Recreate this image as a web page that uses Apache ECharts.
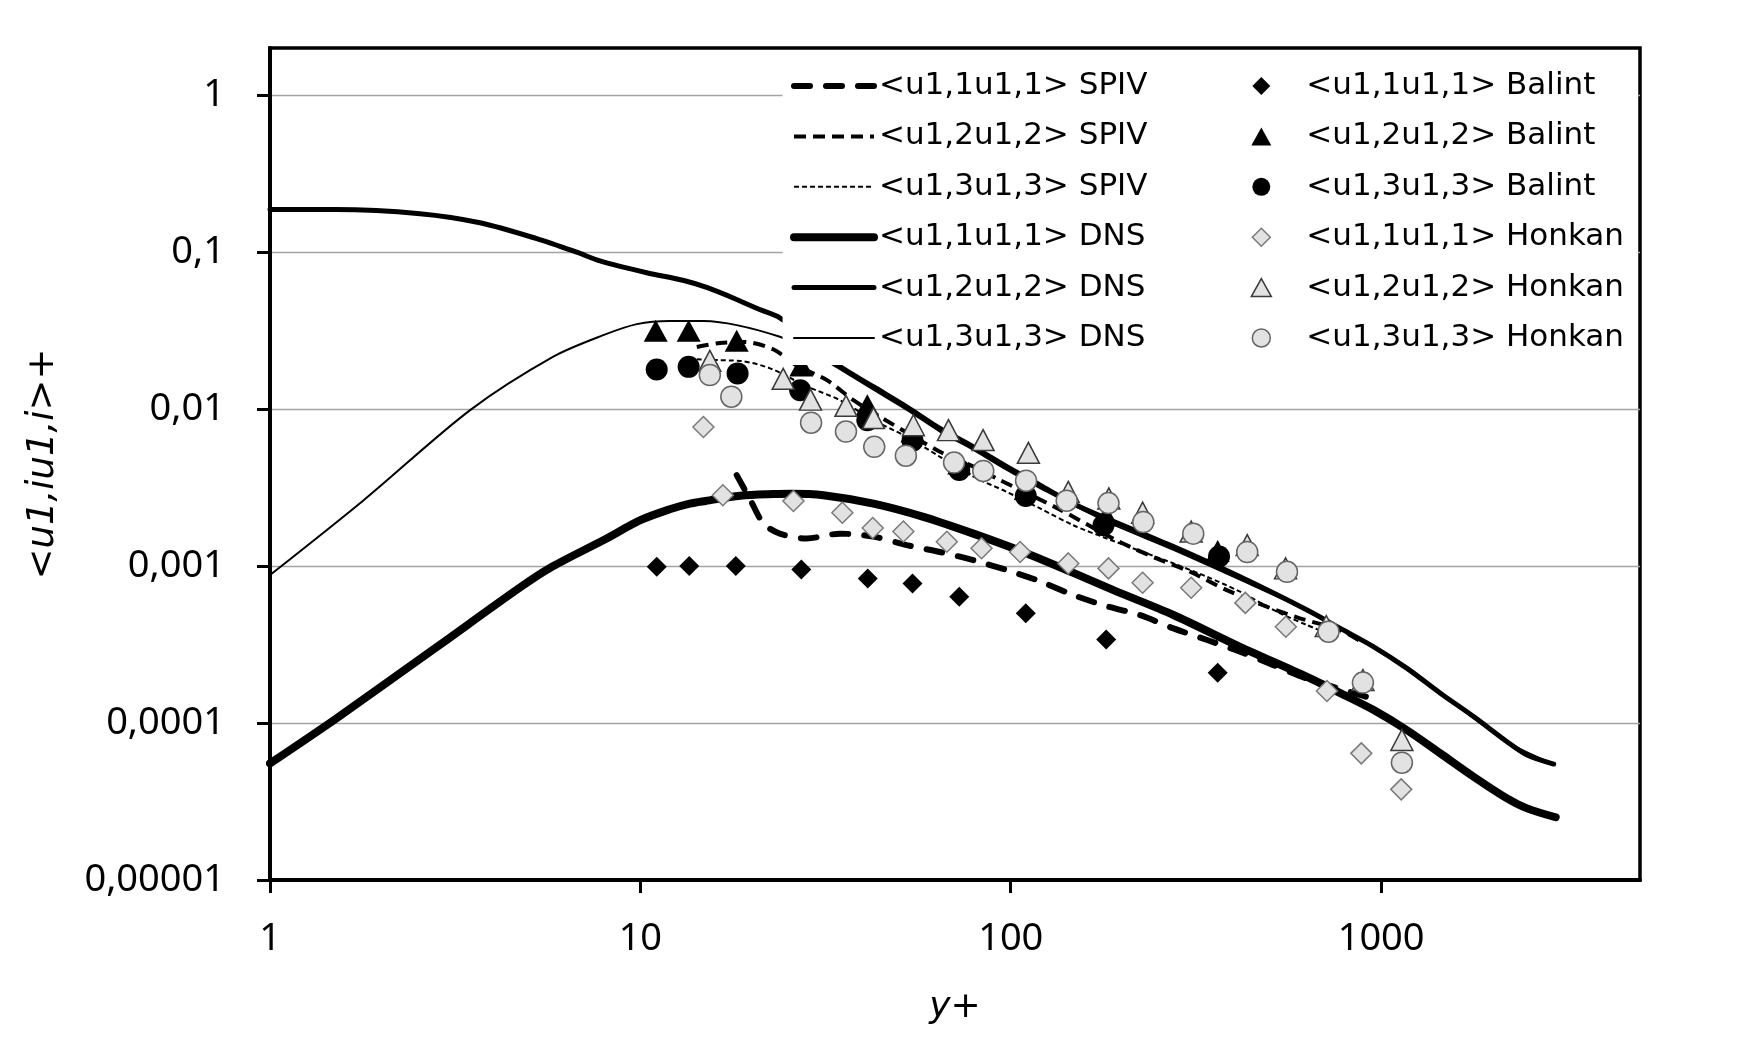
<!DOCTYPE html>
<html>
<head>
<meta charset="utf-8">
<title>u1,i u1,i profiles</title>
<script src="https://cdn.jsdelivr.net/npm/echarts@6/dist/echarts.min.js"></script>
<style>
html, body { margin: 0; padding: 0; background: #fff; }
#chart { width: 1745px; height: 1046px; }
</style>
</head>
<body>
<div id="chart"></div>
<script>
// [y+, <u1,iu1,i>+]
var spivU11 = [[18.2, 0.0038], [19.8, 0.00265], [21.5, 0.00187], [23.8, 0.00161], [28.1, 0.0015], [34.6, 0.00161],
    [42.6, 0.00154], [52.4, 0.00136], [64.4, 0.00123], [79.3, 0.00109], [97.6, 0.000943], [120, 0.0008],
    [147.6, 0.000654], [181.7, 0.000555], [223, 0.000488], [275, 0.000401], [339, 0.000338], [416, 0.000285],
    [512, 0.000234], [631, 0.000192], [920, 0.000146]];
var spivU22 = [[14.2, 0.0249], [16.4, 0.0264], [19, 0.0268], [22.9, 0.024], [26.4, 0.019], [31.9, 0.0153],
    [37.6, 0.0114], [44.4, 0.00893], [54, 0.0068], [64.4, 0.00535], [79.3, 0.0043], [93.6, 0.00353],
    [133, 0.00235], [193, 0.00146], [243, 0.00114], [305, 0.00092], [383, 0.000703], [491, 0.000551],
    [604, 0.000465], [776, 0.00039], [900, 0.00032]];
var spivU33 = [[14.2, 0.0208], [17.5, 0.0204], [18.6, 0.0203], [22.4, 0.0182], [28.1, 0.014], [34.6, 0.0114],
    [42.6, 0.0085], [52.4, 0.00667], [64.4, 0.00497], [79.3, 0.00371], [97.6, 0.00297], [120, 0.00233],
    [147.6, 0.00182], [181.7, 0.0015], [275, 0.00104], [339, 0.000854], [416, 0.000687], [534, 0.0005],
    [631, 0.000421], [720, 0.00037]];
var dnsU11 = [[1, 0.0000553], [1.51, 0.000107], [2.82, 0.000305], [4.73, 0.00073], [5.82, 0.001], [7.94, 0.00146],
    [10, 0.00196], [12, 0.0023], [13.6, 0.0025], [15, 0.0026], [18.6, 0.00281], [22.9, 0.00288], [25.4, 0.00289],
    [31.2, 0.00283], [42.6, 0.0025], [58.1, 0.00206], [79.3, 0.00161], [108, 0.00123], [147.6, 0.000905],
    [190, 0.0007], [275, 0.000488], [416, 0.000306], [631, 0.000197], [776, 0.000155], [955, 0.000121],
    [1175, 0.00009], [1445, 0.0000641], [1777, 0.0000455], [2188, 0.0000331], [2477, 0.0000286], [2960, 0.0000251]];
var dnsU22 = [[1, 0.187], [1.5, 0.187], [2.54, 0.176], [3.69, 0.154], [5.25, 0.122], [6.73, 0.1], [7.78, 0.088],
    [10.4, 0.074], [13.1, 0.066], [15.1, 0.0596], [18.2, 0.05], [21, 0.0431], [23.8, 0.0382], [28, 0.0285],
    [33.9, 0.0193], [42.6, 0.0139], [52.4, 0.01035], [64.4, 0.00754], [79.3, 0.00575], [97.6, 0.0043],
    [120, 0.00328], [147.6, 0.0025], [181.7, 0.00201], [275, 0.00133], [416, 0.000854], [631, 0.000525],
    [776, 0.000401], [955, 0.000306], [1175, 0.000223], [1445, 0.000155], [1777, 0.00011], [2188, 0.000076],
    [2477, 0.0000626], [2924, 0.0000548]];
var dnsU33 = [[1, 0.000877], [1.79, 0.00263], [3.47, 0.00986], [5.82, 0.0216], [7.94, 0.0296], [9.78, 0.0348],
    [12, 0.0365], [14.8, 0.0364], [18.2, 0.0343], [23.8, 0.0289], [28, 0.0245], [33.9, 0.0185], [42.6, 0.0133],
    [52.4, 0.0099], [64.4, 0.0072], [79.3, 0.0055], [97.6, 0.0041], [120, 0.00314], [181.7, 0.00192],
    [275, 0.00127], [416, 0.00082], [631, 0.00052], [955, 0.000304], [1445, 0.000154], [2188, 0.000076],
    [2924, 0.0000548]];

var balintU11 = [[11.07, 0.00099], [13.55, 0.001], [18.1, 0.001], [27.2, 0.000953], [41.1, 0.000834], [54.3, 0.000776],
    [72.6, 0.000637], [109.8, 0.0005], [181, 0.000341], [362, 0.000209]];
var balintU22 = [[11, 0.0316], [13.5, 0.0316], [18.2, 0.0273], [27.2, 0.019], [41, 0.0106], [54.3, 0.0072],
    [72.6, 0.0045], [109.8, 0.0031], [181, 0.0021], [362, 0.00125]];
var balintU33 = [[11.07, 0.0179], [13.5, 0.0186], [18.3, 0.0169], [27, 0.0132], [41, 0.0085], [54.3, 0.0063],
    [72.6, 0.0041], [109.8, 0.0028], [178, 0.00182], [365, 0.00115]];
var honkanU11 = [[14.8, 0.0077], [16.7, 0.00283], [25.9, 0.0026], [35.1, 0.00219], [42.4, 0.00175], [51.3, 0.00166],
    [67.2, 0.00143], [83.4, 0.0013], [106, 0.00123], [143, 0.00104], [183.6, 0.000967], [227, 0.000783],
    [307, 0.000728], [430, 0.000583], [553, 0.000411], [714, 0.00016], [884, 0.0000641], [1133, 0.0000378]];
var honkanU22 = [[15.4, 0.0203], [24.3, 0.0156], [28.8, 0.0115], [35.9, 0.0105], [42.6, 0.00877], [54.6, 0.0079],
    [67.9, 0.00735], [84.2, 0.00635], [111.6, 0.00527], [143, 0.00297], [184, 0.0027], [227, 0.00219],
    [307, 0.00166], [435, 0.00136], [552, 0.000967], [711, 0.000415], [893, 0.000188], [1138, 0.000078]];
var honkanU33 = [[15.4, 0.0165], [17.6, 0.012], [28.9, 0.0082], [35.9, 0.0072], [42.8, 0.00575], [52.1, 0.00505],
    [70.3, 0.00457], [84.3, 0.00404], [110, 0.0035], [141.6, 0.00261], [183.6, 0.00252], [228, 0.00191],
    [311, 0.00161], [435, 0.00123], [557, 0.00092], [721, 0.000382], [893, 0.000181], [1138, 0.0000559]];

var xTicks = [1, 10, 100, 1000];
var xTickLabels = ['1', '10', '100', '1000'];
var yTicks = [0.00001, 0.0001, 0.001, 0.01, 0.1, 1];
var yTickLabels = ['0,00001', '0,0001', '0,001', '0,01', '0,1', '1'];

function tickLabel(ticks, labels) {
    return function (value) {
        for (var i = 0; i < ticks.length; i++) {
            if (Math.abs(Math.log10(value) - Math.log10(ticks[i])) < 1e-6) {
                return labels[i];
            }
        }
        return '';
    };
}

// legend icons as paths so they keep their shape in the 80px wide icon box
var diamondIcon = 'path://M10,0L20,10L10,20L0,10Z';
var triangleIcon = 'path://M10,0L20,18L0,18Z';

// name, data, width, dash, cap
var lineDefs = [
    ['<u1,1u1,1> SPIV', spivU11, 6, [16, 16], 'round'],
    ['<u1,2u1,2> SPIV', spivU22, 4, [12, 7], 'butt'],
    ['<u1,3u1,3> SPIV', spivU33, 2, [5, 3], 'butt'],
    ['<u1,1u1,1> DNS', dnsU11, 8, 'solid', 'round'],
    ['<u1,2u1,2> DNS', dnsU22, 5, 'solid', 'round'],
    ['<u1,3u1,3> DNS', dnsU33, 2, 'solid', 'round']
];
// name, data, symbol, size, fill, border, border width, legend icon
var markerDefs = [
    ['<u1,1u1,1> Balint', balintU11, 'diamond', [20, 20], '#000', '#000', 0, diamondIcon],
    ['<u1,2u1,2> Balint', balintU22, 'triangle', [24, 22], '#000', '#000', 0, triangleIcon],
    ['<u1,3u1,3> Balint', balintU33, 'circle', 22, '#000', '#000', 0, 'circle'],
    ['<u1,1u1,1> Honkan', honkanU11, 'diamond', [21, 21], '#e2e2e2', '#7a7a7a', 1.5, diamondIcon],
    ['<u1,2u1,2> Honkan', honkanU22, 'triangle', [22, 21], '#e2e2e2', '#3a3a3a', 1.5, triangleIcon],
    ['<u1,3u1,3> Honkan', honkanU33, 'circle', 21, '#e2e2e2', '#666', 1.5, 'circle']
];

var series = [];
var lineLegend = [];
var markerLegend = [];

lineDefs.forEach(function (d) {
    series.push({
        name: d[0],
        type: 'line',
        data: d[1],
        symbol: 'none',
        smooth: 0.3,
        lineStyle: { color: '#000', width: d[2], type: d[3], cap: d[4] },
        z: 2
    });
    lineLegend.push({
        name: d[0],
        lineStyle: { width: d[2], type: d[3], cap: d[4], color: '#000' },
        itemStyle: { opacity: 0, borderWidth: 0 }
    });
});

markerDefs.forEach(function (d) {
    series.push({
        name: d[0],
        type: 'scatter',
        data: d[1],
        symbol: d[2],
        symbolSize: d[3],
        itemStyle: { color: d[4], borderColor: d[5], borderWidth: d[6], opacity: 1 },
        z: 3
    });
    markerLegend.push({
        name: d[0],
        icon: d[7],
        itemStyle: { color: d[4], borderColor: d[5], borderWidth: d[6] }
    });
});

var legendText = { fontFamily: 'DejaVu Sans', fontSize: 31, color: '#000', lineHeight: 36 };

var option = {
    animation: false,
    backgroundColor: '#fff',
    grid: {
        left: 270, right: 105, top: 48, bottom: 166,
        show: true, borderColor: '#000', borderWidth: 3.5, backgroundColor: 'transparent'
    },
    legend: [{
        orient: 'vertical',
        left: 790,
        top: 68,
        padding: 0,
        itemWidth: 80,
        itemHeight: 18,
        itemGap: 14.4,
        selectedMode: false,
        textStyle: legendText,
        data: lineLegend,
        z: 6
    }, {
        orient: 'vertical',
        right: 107,
        top: 51,
        padding: [17, 14, 9, 468],
        backgroundColor: '#fff',
        itemWidth: 80,
        itemHeight: 18,
        itemGap: 14.4,
        symbolKeepAspect: true,
        selectedMode: false,
        textStyle: legendText,
        data: markerLegend,
        z: 5
    }],
    xAxis: {
        type: 'log',
        logBase: 10,
        min: 1,
        max: 5000,
        name: 'y+',
        nameLocation: 'middle',
        nameGap: 110,
        nameTextStyle: { fontFamily: 'DejaVu Sans', fontStyle: 'italic', fontSize: 36, color: '#000' },
        axisLine: { show: true, lineStyle: { color: '#000', width: 4 } },
        axisTick: { show: true, inside: false, length: 13, lineStyle: { color: '#000', width: 3 }, customValues: xTicks },
        axisLabel: {
            customValues: xTicks,
            formatter: tickLabel(xTicks, xTickLabels),
            margin: 40,
            fontFamily: 'Noto Sans', fontSize: 38, color: '#000'
        },
        splitLine: { show: false },
        minorTick: { show: false }
    },
    yAxis: {
        type: 'log',
        logBase: 10,
        min: 0.0000099999,
        max: 2,
        name: '<u1,iu1,i>+',
        nameLocation: 'middle',
        nameRotate: 90,
        nameGap: 208,
        nameTextStyle: { fontFamily: 'DejaVu Sans', fontStyle: 'italic', fontSize: 37, color: '#000' },
        axisLine: { show: true, lineStyle: { color: '#000', width: 4 } },
        axisTick: { show: true, inside: false, length: 13, lineStyle: { color: '#000', width: 3 }, customValues: yTicks },
        axisLabel: {
            customValues: yTicks,
            formatter: tickLabel(yTicks, yTickLabels),
            margin: 45,
            fontFamily: 'Noto Sans', fontSize: 38, color: '#000'
        },
        splitLine: { show: true, lineStyle: { color: '#a3a3a3', width: 1.3 } },
        minorTick: { show: false }
    },
    series: series
};

var chart = echarts.init(document.getElementById('chart'));
chart.setOption(option);
</script>
</body>
</html>
